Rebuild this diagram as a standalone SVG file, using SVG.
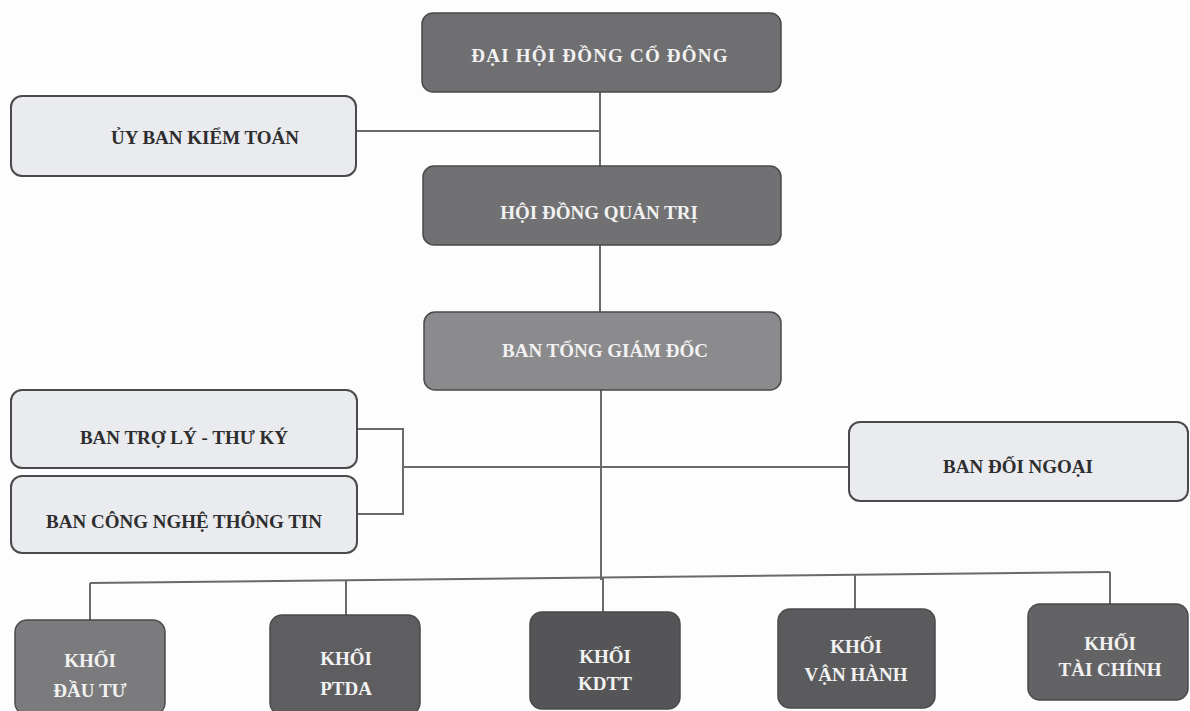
<svg xmlns="http://www.w3.org/2000/svg" width="1190" height="711" viewBox="0 0 1190 711">
<style>
.dark{stroke:#4a4a4c;stroke-width:1.5}
.light{fill:#e9ebef;stroke:#4a4a4c;stroke-width:2}
.tw{font-family:"Liberation Serif",serif;font-weight:bold;font-size:19px;fill:#f2f2f2;text-anchor:middle}
.tk{font-family:"Liberation Serif",serif;font-weight:bold;font-size:19px;fill:#2e2e2e;text-anchor:middle}
.ln{stroke:#6a6a6a;stroke-width:2;fill:none}
</style>
<rect width="1190" height="711" fill="#fdfdfd"/>
<g id="connectors">
<path class="ln" d="M600 92 V167"/>
<path class="ln" d="M356 131 H600"/>
<path class="ln" d="M600 245 V313"/>
<path class="ln" d="M601 390 V580"/>
<path class="ln" d="M357 429 H403 V514 H357"/>
<path class="ln" d="M403 467 H849"/>
<path class="ln" d="M90 583 L1110 572"/>
<path class="ln" d="M90 583 V621"/>
<path class="ln" d="M346 580 V616"/>
<path class="ln" d="M603 578 V613"/>
<path class="ln" d="M855 575 V609"/>
<path class="ln" d="M1110 572 V605"/>
</g>
<g id="n_dhdcd"><rect class="dark" x="422" y="13" width="359" height="79" rx="11" fill="#6f6f71"/><text class="tw" x="600" y="62" letter-spacing="1.2">ĐẠI HỘI ĐỒNG CỔ ĐÔNG</text></g>
<g id="n_ubkt"><rect class="light" x="11" y="96" width="345" height="80" rx="11"/><text class="tk" x="205" y="144" font-size="17.5">ỦY BAN KIỂM TOÁN</text></g>
<g id="n_hdqt"><rect class="dark" x="423" y="166" width="358" height="79" rx="11" fill="#717173"/><text class="tw" x="599" y="219">HỘI ĐỒNG QUẢN TRỊ</text></g>
<g id="n_btgd"><rect class="dark" x="424" y="312" width="357" height="78" rx="11" fill="#8b8b8d" stroke="#7a7a7c"/><text class="tw" x="605" y="357">BAN TỔNG GIÁM ĐỐC</text></g>
<g id="n_btl"><rect class="light" x="11" y="390" width="346" height="78" rx="11"/><text class="tk" x="184" y="444">BAN TRỢ LÝ - THƯ KÝ</text></g>
<g id="n_cntt"><rect class="light" x="11" y="476" width="346" height="77" rx="11"/><text class="tk" x="184" y="528">BAN CÔNG NGHỆ THÔNG TIN</text></g>
<g id="n_bdn"><rect class="light" x="849" y="422" width="339" height="79" rx="11"/><text class="tk" x="1018" y="473">BAN ĐỐI NGOẠI</text></g>
<g id="n_dautu"><rect class="dark" x="15" y="620" width="150" height="95" rx="12" fill="#7b7b7d"/><text class="tw" x="90" y="667">KHỐI</text><text class="tw" x="90" y="697">ĐẦU TƯ</text></g>
<g id="n_ptda"><rect class="dark" x="270" y="615" width="150" height="100" rx="12" fill="#5e5e60"/><text class="tw" x="346" y="665">KHỐI</text><text class="tw" x="346" y="695">PTDA</text></g>
<g id="n_kdtt"><rect class="dark" x="530" y="612" width="150" height="97" rx="12" fill="#555557"/><text class="tw" x="605" y="663">KHỐI</text><text class="tw" x="605" y="690">KDTT</text></g>
<g id="n_vanhanh"><rect class="dark" x="778" y="609" width="157" height="99" rx="12" fill="#5b5b5d"/><text class="tw" x="856" y="653">KHỐI</text><text class="tw" x="856" y="681">VẬN HÀNH</text></g>
<g id="n_taichinh"><rect class="dark" x="1028" y="604" width="160" height="96" rx="12" fill="#636365"/><text class="tw" x="1110" y="650">KHỐI</text><text class="tw" x="1110" y="676">TÀI CHÍNH</text></g>
</svg>
